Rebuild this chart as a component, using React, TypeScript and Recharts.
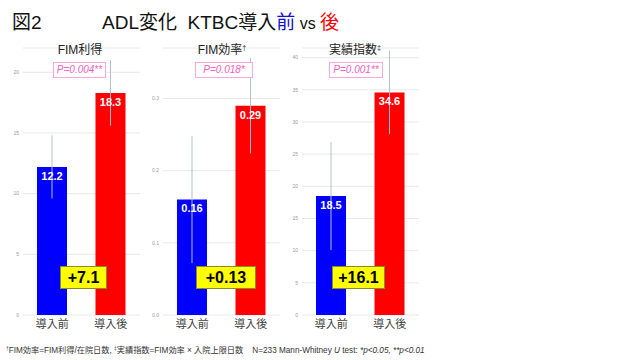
import { BarChart, Bar, XAxis, YAxis, CartesianGrid, ErrorBar, LabelList, Cell } from "recharts";

const categories = ["導入前", "導入後"];
const panelTitles = ["FIM利得", "FIM効率", "実績指数"];
const panelMarks = ["", "†", "‡"];
const fimGain = [12.2, 18.3];
const fimGainErr = [2.6, 2.7];
const fimEff = [0.16, 0.29];
const fimEffErr = [0.088, 0.066];
const score = [18.5, 34.6];
const scoreErr = [8.4, 6.5];
const valueLabels = [["12.2", "18.3"], ["0.16", "0.29"], ["18.5", "34.6"]];
const pValues = ["P=0.004**", "P=0.018*", "P=0.001**"];
const diffs = ["+7.1", "+0.13", "+16.1"];
const yTicks = [[0, 5, 10, 15, 20], [0, 0.1, 0.2, 0.3], [0, 5, 10, 15, 20, 25, 30, 35, 40]];
const yDomains = [[0, 22], [0, 0.37], [0, 41.5]];
const barColors = ["#0000ff", "#ff0000"];

// layout only
const chartLeft = [0, 140, 279];
const pBoxLeft = [53, 195, 329];
const pBoxWidth = [53, 58, 54];
const diffLeft = [60, 196, 332];
const diffWidth = [47, 60, 53];
const titleCenter = [80, 222, 355];

const FONT = '"Liberation Sans", Arial, "Noto Sans CJK JP", sans-serif';

function buildRows(values: number[], errs: number[], labels: string[]) {
  return categories.map((c, i) => ({ name: c, value: values[i], err: errs[i], label: labels[i] }));
}

const panelData = [
  buildRows(fimGain, fimGainErr, valueLabels[0]),
  buildRows(fimEff, fimEffErr, valueLabels[1]),
  buildRows(score, scoreErr, valueLabels[2]),
];

function Panel({ idx }: { idx: number }) {
  const fmt = idx === 1 ? (v: number) => v.toFixed(1) : (v: number) => String(v);
  return (
    <div style={{ position: "absolute", left: chartLeft[idx], top: 0 }}>
      <BarChart
        width={145}
        height={340}
        data={panelData[idx]}
        margin={{ top: 48, right: 5, left: 0, bottom: 0 }}
        barSize={30}
      >
        <CartesianGrid vertical={false} stroke="#e8e8e8" />
        <XAxis
          dataKey="name"
          axisLine={false}
          tickLine={false}
          tickSize={0}
          tickMargin={5}
          height={25}
          tick={{ fontSize: 11, fill: "#404040", fontFamily: FONT }}
          interval={0}
        />
        <YAxis
          width={23}
          domain={yDomains[idx]}
          ticks={yTicks[idx]}
          tickFormatter={fmt}
          axisLine={false}
          tickLine={false}
          tickSize={0}
          tickMargin={4}
          tick={{ fontSize: 5, fill: "#999", fontFamily: FONT }}
          interval={0}
        />
        <Bar dataKey="value" isAnimationActive={false}>
          {panelData[idx].map((_, i) => (
            <Cell key={i} fill={barColors[i]} />
          ))}
          <ErrorBar dataKey="err" width={0} stroke="#b4bfcc" strokeWidth={1} direction="y" />
          <LabelList
            dataKey="label"
            position="insideTop"
            offset={5}
            fill="#ffffff"
            fontSize={11}
            fontWeight="bold"
            fontFamily={FONT}
          />
        </Bar>
      </BarChart>
    </div>
  );
}

const supStyle = { fontSize: "0.6em", verticalAlign: "0.6em", lineHeight: 0 } as const;

export default function App() {
  return (
    <div
      style={{
        position: "absolute",
        left: 0,
        top: 0,
        width: 640,
        height: 360,
        background: "#fff",
        fontFamily: FONT,
        overflow: "hidden",
      }}
    >
      <div style={{ position: "absolute", left: 12, top: 7, fontSize: 19, color: "#111", whiteSpace: "nowrap" }}>
        図2
      </div>
      <div style={{ position: "absolute", left: 102, top: 7, fontSize: 19, color: "#111", whiteSpace: "nowrap" }}>
        ADL変化&nbsp;&nbsp;KTBC導入<span style={{ color: "#1010d0" }}>前</span>
        <span style={{ fontSize: 16 }}> vs </span>
        <span style={{ color: "#ff0000" }}>後</span>
      </div>

      {[0, 1, 2].map((i) => (
        <Panel key={i} idx={i} />
      ))}

      {panelTitles.map((t, i) => (
        <div
          key={"t" + i}
          style={{
            position: "absolute",
            left: titleCenter[i] - 50,
            width: 100,
            top: 40,
            textAlign: "center",
            fontSize: 12,
            color: "#222",
            whiteSpace: "nowrap",
          }}
        >
          {t}
          {panelMarks[i] && <span style={supStyle}>{panelMarks[i]}</span>}
        </div>
      ))}

      {pValues.map((p, i) => (
        <div
          key={"p" + i}
          style={{
            position: "absolute",
            left: pBoxLeft[i],
            top: 62,
            width: pBoxWidth[i],
            height: 16,
            boxSizing: "border-box",
            border: "1px solid #f7a8dc",
            background: "#fff",
            color: "#f060c0",
            fontStyle: "italic",
            fontSize: 10,
            lineHeight: "14px",
            textAlign: "center",
            whiteSpace: "nowrap",
          }}
        >
          {p}
        </div>
      ))}

      {diffs.map((d, i) => (
        <div
          key={"d" + i}
          style={{
            position: "absolute",
            left: diffLeft[i],
            top: 266,
            width: diffWidth[i],
            height: 23,
            boxSizing: "border-box",
            border: "1px solid #8a8a30",
            background: "#ffff00",
            color: "#000",
            fontWeight: "bold",
            fontSize: 16,
            lineHeight: "21px",
            textAlign: "center",
            whiteSpace: "nowrap",
          }}
        >
          {d}
        </div>
      ))}

      <div
        style={{
          position: "absolute",
          left: 6,
          top: 343,
          fontSize: 8.2,
          color: "#333",
          whiteSpace: "nowrap",
        }}
      >
        <span style={supStyle}>†</span>FIM効率=FIM利得/在院日数, <span style={supStyle}>‡</span>
        実績指数=FIM効率 × 入院上限日数&nbsp;&nbsp;&nbsp;&nbsp;N=233 Mann-Whitney <i>U</i> test:{" "}
        <i>*p&lt;0.05, **p&lt;0.01</i>
      </div>
    </div>
  );
}
